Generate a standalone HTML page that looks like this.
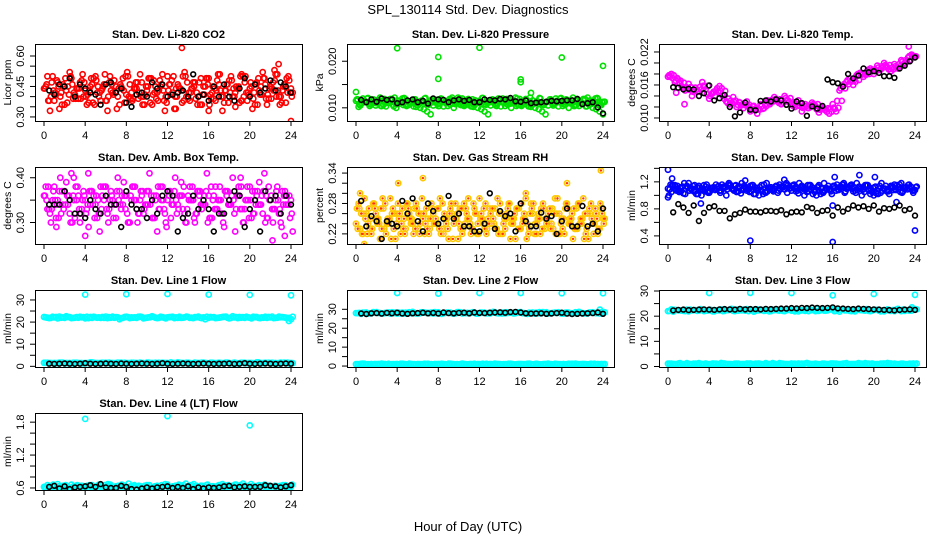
<!DOCTYPE html>
<html><head><meta charset="utf-8">
<style>
html,body{margin:0;padding:0;background:#fff;}
svg{display:block;font-family:"Liberation Sans",sans-serif;}
</style></head>
<body>
<svg id="chart" width="936" height="540" viewBox="0 0 936 540" xmlns="http://www.w3.org/2000/svg">
<rect x="0" y="0" width="936" height="540" fill="#fff"/>
<text x="468" y="14" text-anchor="middle" font-size="13">SPL_130114  Std. Dev. Diagnostics</text>
<text x="468" y="531" text-anchor="middle" font-size="13">Hour of Day (UTC)</text>
<g id="panels"></g>
</svg>
<script>
// ---- data arrays ----
const xTicks = [0,4,8,12,16,20,24];

const co2Color = [0.44,0.50,0.40,0.38,0.47,0.42,0.36,0.45,0.49,0.41,0.39,0.48,0.43,0.37,0.46,0.50,0.40,0.44,0.38,0.47,0.42,0.45,0.36,0.49,0.41,0.46,0.39,0.44,0.51,0.40,0.43,0.37,0.48,0.42,0.45,0.38,0.50,0.41,0.34,0.46,0.43,0.52,0.39,0.44,0.47,0.40,0.36,0.45,0.49,0.42,0.38,0.46,0.33,0.43,0.48,0.40,0.45,0.37,0.50,0.42,0.44,0.39,0.47,0.41,0.49,0.36,0.45,0.43,0.51,0.40,0.46,0.42,0.44];
const co2Black = [0.43,0.41,0.46,0.45,0.49,0.40,0.46,0.44,0.42,0.41,0.36,0.46,0.47,0.42,0.44,0.37,0.35,0.41,0.42,0.40,0.47,0.44,0.46,0.40,0.41,0.42,0.43,0.40,0.51,0.40,0.41,0.38,0.45,0.40,0.46,0.40,0.38,0.44,0.49,0.40,0.46,0.42,0.44,0.48,0.43,0.47,0.45,0.42];
const co2Out = [[13.4,0.64],[22.8,0.56],[22.4,0.53],[19.2,0.51],[24,0.28],[16,0.33],[12.8,0.34],[18.6,0.35]];

const presColor = [0.0115,0.0108,0.0120,0.0112,0.0104,0.0118,0.0110,0.0122,0.0106,0.0114,0.0119,0.0103,0.0116,0.0111,0.0121,0.0107,0.0113,0.0118,0.0105,0.0115,0.0120,0.0109,0.0117,0.0112,0.0104,0.0119,0.0111,0.0116,0.0122,0.0108,0.0114,0.0120,0.0106,0.0113,0.0118,0.0110,0.0115,0.0121,0.0107,0.0112,0.0117,0.0104,0.0116,0.0111,0.0119,0.0109,0.0114,0.0120,0.0106,0.0112,0.0115,0.0102,0.0110,0.0113,0.0108,0.0111,0.0105,0.0112,0.0109,0.0103,0.0111,0.0107,0.0100,0.0110,0.0106,0.0104,0.0108,0.0103,0.0106,0.0100,0.0097,0.0092,0.0086];
const presBlack = [0.0117,0.0112,0.0118,0.0113,0.0120,0.0117,0.0118,0.0110,0.0112,0.0116,0.0118,0.0112,0.0115,0.0109,0.0120,0.0118,0.0117,0.0112,0.0116,0.0118,0.0115,0.0117,0.0112,0.0112,0.0118,0.0117,0.0116,0.0119,0.0118,0.0121,0.0114,0.0113,0.0116,0.0110,0.0111,0.0112,0.0113,0.0115,0.0114,0.0115,0.0116,0.0116,0.0119,0.0108,0.0110,0.0112,0.0101,0.0088];
const presOut = [[4,0.0228],[8,0.0209],[8,0.0162],[12,0.0229],[16,0.0161],[16,0.0155],[20,0.0208],[24,0.0190],[0,0.0134],[17,0.0132]];

const ltempColor = [0.0175,0.0180,0.0165,0.0170,0.0158,0.0150,0.0162,0.0140,0.0155,0.0148,0.0165,0.0152,0.0135,0.0145,0.0150,0.0158,0.0140,0.0130,0.0125,0.0138,0.0120,0.0128,0.0118,0.0130,0.0112,0.0122,0.0108,0.0125,0.0118,0.0132,0.0128,0.0138,0.0130,0.0125,0.0140,0.0132,0.0125,0.0120,0.0132,0.0112,0.0125,0.0118,0.0128,0.0122,0.0110,0.0120,0.0115,0.0108,0.0125,0.0112,0.0150,0.0158,0.0165,0.0172,0.0160,0.0178,0.0182,0.0175,0.0185,0.0190,0.0180,0.0195,0.0188,0.0200,0.0192,0.0185,0.0198,0.0190,0.0205,0.0200,0.0210,0.0215,0.0212];
const ltempBlack = [0.0156,0.0155,0.0152,0.0153,0.0152,0.0140,0.0145,0.0159,0.0132,0.0136,0.0142,0.0120,0.0103,0.0110,0.0128,0.0115,0.0114,0.0131,0.0132,0.0130,0.0134,0.0132,0.0124,0.0117,0.0130,0.0127,0.0104,0.0121,0.0117,0.0122,0.0170,0.0165,0.0163,0.0157,0.0180,0.0172,0.0177,0.0190,0.0183,0.0185,0.0182,0.0176,0.0176,0.0173,0.0190,0.0195,0.0203,0.0210];
const ltempOut = [[0.8,0.0146],[1.6,0.0125],[23.4,0.0230]];

const ambColor = [0.36,0.33,0.30,0.38,0.35,0.32,0.37,0.34,0.41,0.31,0.36,0.33,0.35,0.29,0.37,0.34,0.32,0.36,0.38,0.33,0.35,0.31,0.37,0.34,0.36,0.30,0.38,0.33,0.35,0.32,0.37,0.34,0.36,0.28,0.38,0.33,0.35,0.31,0.37,0.34,0.39,0.32,0.36,0.35,0.30,0.37,0.33,0.34,0.36,0.31,0.38,0.35,0.32,0.37,0.34,0.40,0.33,0.36,0.30,0.35,0.38,0.32,0.36,0.34,0.37,0.31,0.35,0.33,0.38,0.30,0.36,0.34,0.35];
const ambBlack = [0.34,0.34,0.34,0.37,0.35,0.32,0.32,0.31,0.35,0.33,0.32,0.36,0.34,0.34,0.29,0.37,0.34,0.33,0.33,0.31,0.35,0.32,0.36,0.37,0.36,0.28,0.31,0.32,0.36,0.33,0.35,0.33,0.28,0.32,0.32,0.35,0.37,0.36,0.29,0.33,0.35,0.28,0.37,0.35,0.36,0.32,0.36,0.34];
const ambOut = [[4.3,0.41],[4,0.27],[22.2,0.26],[2.9,0.40],[19.1,0.40],[23.4,0.27],[1.2,0.29]];

const rhColor = [0.24,0.27,0.22,0.26,0.23,0.28,0.25,0.21,0.27,0.24,0.29,0.23,0.26,0.22,0.25,0.28,0.24,0.27,0.23,0.26,0.22,0.25,0.28,0.24,0.27,0.23,0.25,0.21,0.26,0.28,0.24,0.22,0.27,0.25,0.23,0.26,0.29,0.24,0.22,0.27,0.25,0.23,0.28,0.24,0.26,0.21,0.25,0.27,0.23,0.26,0.24,0.28,0.22,0.25,0.27,0.23,0.26,0.24,0.29,0.22,0.25,0.27,0.24,0.26,0.23,0.28,0.25,0.22,0.27,0.24,0.26,0.23,0.25];
const rhBlack = [0.285,0.235,0.255,0.245,0.21,0.245,0.24,0.235,0.285,0.26,0.29,0.245,0.225,0.28,0.265,0.24,0.25,0.295,0.25,0.26,0.235,0.235,0.225,0.225,0.24,0.30,0.23,0.265,0.255,0.26,0.225,0.28,0.245,0.235,0.235,0.262,0.25,0.255,0.22,0.245,0.27,0.235,0.235,0.275,0.235,0.24,0.225,0.27];
const rhOut = [[0.4,0.30],[0.8,0.20],[4.1,0.32],[6.5,0.33],[20.5,0.32],[23.8,0.345],[16.5,0.30]];

const sflowColor = [1.10,1.05,1.15,1.08,1.12,1.02,1.18,1.10,1.06,1.14,1.09,1.13,1.04,1.11,1.16,1.07,1.12,1.00,1.15,1.09,1.05,1.13,1.10,1.07,1.14,1.02,1.11,1.08,1.16,1.06,1.12,1.10,1.04,1.13,1.09,1.15,1.07,1.11,1.03,1.14,1.10,1.06,1.12,1.08,1.15,1.05,1.11,1.09,1.13,1.07,1.12,1.16,1.10,1.14,1.06,1.18,1.12,1.09,1.15,1.02,1.00,1.06,1.04,1.10,1.08,1.14,1.16,1.12,1.18,1.10,1.15,1.12,1.08];
const sflowBlack = [0.75,0.87,0.82,0.74,0.85,0.62,0.74,0.82,0.84,0.77,0.77,0.66,0.72,0.74,0.79,0.76,0.76,0.75,0.77,0.77,0.76,0.78,0.72,0.75,0.76,0.75,0.83,0.81,0.74,0.77,0.78,0.70,0.82,0.76,0.80,0.85,0.82,0.84,0.80,0.85,0.76,0.81,0.80,0.82,0.85,0.78,0.80,0.70];
const sflowOut = [[0,1.38],[0.4,1.25],[8,0.33],[16,0.31],[16.2,1.27],[18.6,1.3],[20.1,1.27],[24,0.48],[7.5,1.22],[11.3,1.23],[16,0.85],[22.2,0.9],[0,0.97],[3.2,0.88]];

const l1Upper = [22.3,21.8,22.1,22.5,21.9,22.2,22.0,22.4,21.7,22.3,22.1,21.9,22.5,22.0,22.2,21.8,22.4,22.1,21.9,22.3,22.0,22.6,21.8,22.2,22.1,22.4,21.9,22.0,22.3,21.8,22.5,22.1,21.9,22.2,22.0,22.4,21.7,22.1,22.3,21.9,22.0,22.2,21.8,22.4,22.1,21.9,22.2,22.0,21.3];
const l1Lower = [1.6,1.4,1.5,1.7,1.3,1.5,1.6,1.4,1.5,1.8,1.4,1.5,1.6,1.3,1.5,1.7,1.4,1.6,1.5,1.4,1.7,1.5,1.3,1.6,1.5,1.4,1.8,1.5,1.6,1.4,1.5,1.7,1.3,1.5,1.6,1.4,1.5,1.7,1.4,1.6,1.5,1.3,1.5,1.6,1.4,1.5,1.7,1.4,1.5];
const l1Black = [1.2,1.1,1.2,1.3,1.2,1.1,1.2,1.4,1.2,1.1,1.2,1.3,1.2,1.1,1.3,1.2,1.1,1.2,1.3,1.2,1.1,1.2,1.4,1.2,1.1,1.2,1.3,1.2,1.1,1.2,1.3,1.2,1.1,1.2,1.2,1.3,1.1,1.2,1.4,1.2,1.1,1.2,1.3,1.2,1.1,1.2,1.3,1.2];
const l1Out = [[4,32.4],[8,32.6],[12,32.7],[16,32.4],[20,32.3],[24,32.1],[23.8,20.5]];

const l2Upper = [28.0,27.6,28.3,27.9,28.5,27.8,28.1,28.4,27.7,28.2,28.0,28.6,27.9,28.3,28.1,27.8,28.4,28.0,28.2,27.7,28.5,28.1,27.9,28.3,28.0,28.2,27.8,28.4,28.1,27.9,28.3,28.0,28.5,27.8,28.1,28.2,27.9,28.4,28.0,28.1,27.7,28.3,27.9,28.2,28.0,27.8,28.4,28.1,28.3];
const l2Lower = [1.0,1.2,0.9,1.1,1.0,1.3,0.9,1.0,1.1,1.2,0.9,1.0,1.1,1.0,1.2,0.9,1.1,1.0,1.3,1.0,0.9,1.1,1.0,1.2,1.0,0.9,1.1,1.3,1.0,1.0,1.2,0.9,1.1,1.0,1.0,1.2,0.9,1.1,1.0,1.1,0.9,1.0,1.2,1.0,1.1,0.9,1.0,1.1,1.0];
const l2Black = [27.8,27.5,27.9,28.0,27.7,28.1,27.9,28.2,27.8,27.6,27.9,28.0,28.2,27.9,28.1,27.8,28.3,28.0,27.9,28.1,28.2,27.9,28.3,28.1,28.0,28.2,28.3,28.4,28.2,28.5,28.6,28.3,27.9,27.7,27.8,27.9,27.6,27.8,28.0,28.2,27.7,27.5,27.6,27.8,27.9,28.0,28.3,27.6];
const l2Out = [[4,38.6],[8,38.3],[12,38.6],[16,38.6],[20,38.5],[24,38.5],[23.7,29.8]];

const l3Upper = [22.0,21.8,22.3,22.1,21.9,22.4,22.2,22.0,22.5,21.9,22.3,22.1,22.6,22.0,22.4,22.2,22.7,22.1,22.5,22.3,22.0,22.6,22.4,22.8,22.2,22.5,22.3,22.7,22.4,22.9,22.6,22.3,22.8,22.5,22.7,22.4,22.2,22.6,22.3,22.1,22.5,22.2,21.9,22.3,22.0,22.4,22.1,22.2,22.6];
const l3Lower = [1.1,1.0,1.2,0.9,1.0,1.1,1.3,1.0,0.9,1.1,1.0,1.2,1.0,1.1,0.9,1.0,1.2,1.1,1.0,1.3,1.0,0.9,1.1,1.0,1.2,1.0,1.1,1.4,1.0,0.9,1.1,1.0,1.2,1.0,1.1,0.9,1.0,1.3,1.0,1.1,1.0,0.9,1.2,1.0,1.1,1.0,0.9,1.1,1.0];
const l3Black = [22.3,22.5,22.6,22.4,22.5,22.6,22.7,22.6,22.5,22.7,22.8,22.7,22.6,22.9,22.7,22.8,22.8,22.7,22.9,22.8,22.9,23.0,23.0,23.2,23.1,23.3,23.2,23.4,23.3,23.2,23.3,23.5,23.1,23.0,22.9,22.8,23.0,22.9,22.8,22.7,22.6,22.5,22.4,22.3,22.5,22.6,22.7,22.5];
const l3Out = [[4,29.2],[8,29.3],[12,29.2],[16,28.3],[20,28.8],[24,28.5],[23.7,23.5]];

const l4Color = [0.62,0.65,0.60,0.63,0.67,0.61,0.64,0.59,0.66,0.62,0.60,0.64,0.63,0.58,0.65,0.61,0.66,0.62,0.60,0.64,0.59,0.63,0.61,0.65,0.60,0.62,0.64,0.58,0.63,0.61,0.65,0.60,0.62,0.64,0.59,0.63,0.66,0.61,0.60,0.64,0.62,0.58,0.63,0.65,0.61,0.60,0.64,0.62,0.59,0.63,0.61,0.65,0.67,0.62,0.60,0.64,0.66,0.62,0.68,0.63,0.61,0.64,0.60,0.62,0.65,0.61,0.63,0.59,0.62,0.64,0.60,0.63,0.62];
const l4Black = [0.62,0.64,0.59,0.63,0.58,0.61,0.62,0.63,0.65,0.62,0.67,0.61,0.60,0.60,0.64,0.62,0.58,0.57,0.59,0.61,0.59,0.61,0.62,0.63,0.60,0.62,0.60,0.63,0.58,0.61,0.59,0.61,0.60,0.61,0.63,0.64,0.61,0.62,0.63,0.62,0.62,0.62,0.65,0.64,0.63,0.61,0.63,0.65];
const l4Out = [[4,1.86],[12,1.91],[20,1.74]];

// ---- panel configuration ----
const panels = [
 {id:'co2',title:'Stan. Dev. Li-820 CO2',ylab:'Licor ppm',col:0,row:0,dom:[0.280,0.659],ticks:[0.30,0.35,0.40,0.45,0.50,0.55,0.60],labels:['0.30','0.45','0.60'],color:'#ff0000',bands:[co2Color],black:co2Black,out:co2Out,passes:4},
 {id:'pressure',title:'Stan. Dev. Li-820 Pressure',ylab:'kPa',col:1,row:0,dom:[0.00717,0.0237],ticks:[0.010,0.015,0.020],labels:['0.010','0.020'],color:'#00e000',bands:[presColor],black:presBlack,out:presOut,passes:4},
 {id:'li-temp',title:'Stan. Dev. Li-820 Temp.',ylab:'degrees C',col:2,row:0,dom:[0.00945,0.02345],ticks:[0.010,0.012,0.014,0.016,0.018,0.020,0.022],labels:['0.010','0.016','0.022'],color:'#ff00ff',bands:[ltempColor],black:ltempBlack,out:ltempOut,passes:3,local:true},
 {id:'amb-temp',title:'Stan. Dev. Amb. Box Temp.',ylab:'degrees C',col:0,row:1,dom:[0.252,0.424],ticks:[0.30,0.35,0.40],labels:['0.30','0.40'],color:'#ff00ff',bands:[ambColor],black:ambBlack,out:ambOut,passes:4},
 {id:'rh',title:'Stan. Dev. Gas Stream RH',ylab:'percent',col:1,row:1,dom:[0.200,0.352],ticks:[0.22,0.24,0.26,0.28,0.30,0.32,0.34],labels:['0.22','0.28','0.34'],color:'#ffc800',dot:'#ff3000',bands:[rhColor],black:rhBlack,out:rhOut,passes:4},
 {id:'sample-flow',title:'Stan. Dev. Sample Flow',ylab:'ml/min',col:2,row:1,dom:[0.28,1.42],ticks:[0.4,0.6,0.8,1.0,1.2,1.4],labels:['0.4','0.8','1.2'],color:'#0000ff',bands:[sflowColor],black:sflowBlack,out:sflowOut,passes:4},
 {id:'line1',title:'Stan. Dev. Line 1 Flow',ylab:'ml/min',col:0,row:2,dom:[-0.3,34.5],ticks:[0,5,10,15,20,25,30],labels:['0','10','20','30'],color:'#00ffff',bands:[l1Upper,l1Lower],black:l1Black,out:l1Out,passes:3},
 {id:'line2',title:'Stan. Dev. Line 2 Flow',ylab:'ml/min',col:1,row:2,dom:[-0.5,40.2],ticks:[0,5,10,15,20,25,30],labels:['0','10','20','30'],color:'#00ffff',bands:[l2Upper,l2Lower],black:l2Black,out:l2Out,passes:3},
 {id:'line3',title:'Stan. Dev. Line 3 Flow',ylab:'ml/min',col:2,row:2,dom:[-0.2,30.4],ticks:[0,5,10,15,20,25,30],labels:['0','10','20','30'],color:'#00ffff',bands:[l3Upper,l3Lower],black:l3Black,out:l3Out,passes:3},
 {id:'line4',title:'Stan. Dev. Line 4 (LT) Flow',ylab:'ml/min',col:0,row:3,dom:[0.563,1.967],ticks:[0.6,0.8,1.0,1.2,1.4,1.6,1.8],labels:['0.6','1.2','1.8'],color:'#00ffff',bands:[l4Color],black:l4Black,out:l4Out,passes:3}
];

const NS='http://www.w3.org/2000/svg';
const root=document.getElementById('panels');
function mk(tag,attrs,parent){const e=document.createElementNS(NS,tag);for(const k in attrs)e.setAttribute(k,attrs[k]);(parent||root).appendChild(e);return e;}
const BW=267,BH=77,XMIN=-0.875,XMAX=25.07;

panels.forEach(p=>{
  const L=35+312*p.col, T=44+123*p.row;
  const g=mk('g',{});
  
  
  const xs=v=>L+(v-XMIN)/(XMAX-XMIN)*BW;
  const ys=v=>T+BH-(v-p.dom[0])/(p.dom[1]-p.dom[0])*BH;
  const clip='clip-'+p.id;
  const cp=mk('clipPath',{id:clip},g); mk('rect',{x:L,y:T,width:BW,height:BH},cp);
  const pts=mk('g',{'clip-path':'url(#'+clip+')'},g);
  function pt(x,y,color,r,name){
    const c=mk('circle',{cx:xs(x).toFixed(1),cy:ys(y).toFixed(1),r:r,fill:'none',stroke:color,'stroke-width':1.6},pts);
    
    
    if(p.dot && color!=='#000'){mk('circle',{cx:xs(x).toFixed(1),cy:ys(y).toFixed(1),r:1.2,fill:p.dot},pts);}
  }
  p.bands.forEach(arr=>{
    const n=arr.length, step=24/(n-1);
    for(let k=0;k<p.passes;k++){
      arr.forEach((v,i)=>{
        const x=(i+k/p.passes)*step;
        if(x>24.2) return;
        // later passes reuse neighbouring readings so the band looks as dense as the original
        const j=p.local? Math.min(n-1,Math.max(0,i+((k%2)?1:-1))) : (i+k*17)%n;
        const val=k===0? v : (p.local? (v+arr[j])/2 : arr[j]);
        pt(x,val,p.color,2.6,p.id+'-point');
      });
    }
  });
  p.out.forEach(o=>pt(o[0],o[1],p.color,2.6,p.id+'-outlier'));
  const nb=p.black.length;
  p.black.forEach((v,i)=>pt(0.5+i*23.5/(nb-1),v,'#000',2.4,p.id+'-hourly-point'));
  const box=mk('rect',{x:L+0.5,y:T+0.5,width:BW,height:BH,fill:'none',stroke:'#000','stroke-width':1},g);
  
  
  const ttl=mk('text',{x:L+BW/2,y:T-6,'text-anchor':'middle','font-size':11,'font-weight':'bold'},g);
  ttl.textContent=p.title;
  
  
  xTicks.forEach(t=>{
    const x=xs(t);
    mk('line',{x1:x,y1:T+BH,x2:x,y2:T+BH+5,stroke:'#000'},g);
    const tx=mk('text',{x:x,y:T+BH+18,'text-anchor':'middle','font-size':11},g);
    tx.textContent=t;
    
    
  });
  p.ticks.forEach(t=>{
    const y=ys(t);
    mk('line',{x1:L-5,y1:y,x2:L,y2:y,stroke:'#000'},g);
  });
  p.labels.forEach(lab=>{
    const y=ys(parseFloat(lab));
    const tx=mk('text',{x:L-11,y:y,'text-anchor':'middle','font-size':11,transform:'rotate(-90 '+(L-11)+' '+y+')'},g);
    tx.textContent=lab;
    
    
  });
  const yl=L-24, ym=T+BH/2;
  const yt=mk('text',{x:yl,y:ym,'text-anchor':'middle','font-size':10.5,transform:'rotate(-90 '+yl+' '+ym+')'},g);
  yt.textContent=p.ylab;
  
  
});
</script>
</body></html>
